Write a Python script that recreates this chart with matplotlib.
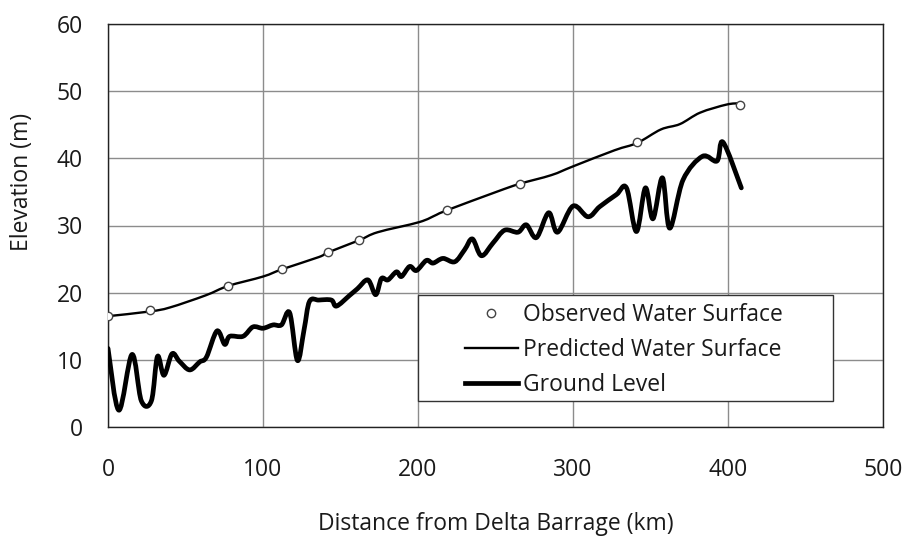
import numpy as np
import matplotlib
matplotlib.use("Agg")
import matplotlib.pyplot as plt
from matplotlib.path import Path
from matplotlib.patches import PathPatch, Rectangle
from matplotlib.lines import Line2D

plt.rcParams['font.family'] = ['Open Sans', 'DejaVu Sans']

# Observed water surface (circles)
obs_km = [0, 27, 77.5, 112.5, 142, 162, 218.5, 265.5, 341, 407.5]
obs_elev = [16.5, 17.4, 21.0, 23.5, 26.1, 27.9, 32.3, 36.2, 42.4, 48.0]

# Predicted water surface
pred_km = [0, 27, 40, 63, 77.5, 100, 112.5, 136, 142, 162, 174, 200.7, 212, 219,
           250.5, 265.5, 286, 300, 326.8, 341.5, 356.7, 369, 382, 399, 407.5]
pred_elev = [16.5, 17.2, 17.8, 19.6, 21.0, 22.4, 23.5, 25.3, 26.0, 27.8, 29.0, 30.5, 31.6, 32.3,
             35.0, 36.2, 37.5, 38.8, 41.2, 42.3, 44.3, 45.1, 46.8, 48.0, 48.2]

# Ground level
ground_km = [0, 7, 15.5, 21.5, 28, 31.9, 36.1, 41.3, 46, 52.7, 59.2, 63.5, 70.3, 75.3, 78.5,
             87.1, 93.5, 100, 106.5, 111.9, 117.2, 122.2, 126.5, 130, 136, 144.1, 147.4,
             155.9, 161, 167.7, 172.7, 176.4, 180.6, 186.1, 189.3, 194.6, 199, 205.4, 209.7,
             216.1, 223.7, 230.1, 235.1, 240.9, 248.4, 255.9, 264.5, 269.9, 276.4, 284.3,
             290, 300, 309.7, 317.2, 328, 334.5, 340.9, 346.7, 351.6, 357.7, 362.4, 371,
             383.5, 392.9, 396.8, 408.6]
ground_elev = [11.7, 2.5, 10.8, 3.9, 3.9, 10.5, 7.7, 10.9, 9.8, 8.5, 9.7, 10.4, 14.3, 12.3, 13.5,
               13.5, 14.9, 14.7, 15.2, 15.2, 17.0, 9.9, 14.5, 18.7, 18.9, 18.9, 18.0,
               19.6, 20.6, 21.9, 19.7, 22.1, 21.9, 23.1, 22.4, 23.9, 23.3, 24.8, 24.4,
               25.1, 24.6, 26.4, 28.0, 25.5, 27.4, 29.3, 29.0, 30.1, 28.2, 31.9,
               29.0, 32.9, 31.3, 32.8, 34.6, 35.6, 29.1, 35.6, 31.0, 37.1, 29.6, 36.8,
               40.3, 39.6, 42.4, 35.6]


def smooth_path(x, y):
    # Excel-style smoothed line (Catmull-Rom as cubic Bezier)
    pts = np.column_stack([x, y]).astype(float)
    n = len(pts)
    verts = [pts[0]]
    codes = [Path.MOVETO]
    for i in range(n - 1):
        p0 = pts[max(i - 1, 0)]
        p1 = pts[i]
        p2 = pts[i + 1]
        p3 = pts[min(i + 2, n - 1)]
        verts += [p1 + (p2 - p0) / 6, p2 - (p3 - p1) / 6, p2]
        codes += [Path.CURVE4] * 3
    return Path(verts, codes)


FS = 16.5
TXT = '#1a1a1a'

fig = plt.figure(figsize=(9.05, 5.36), dpi=100)
ax = fig.add_axes([108 / 905, 1 - 427 / 536, 775 / 905, 403 / 536])

ax.add_patch(PathPatch(smooth_path(pred_km, pred_elev), fill=False, lw=1.7,
                       edgecolor='black', capstyle='round', joinstyle='round', zorder=3))
ax.add_patch(PathPatch(smooth_path(ground_km, ground_elev), fill=False, lw=3.4,
                       edgecolor='black', capstyle='round', joinstyle='round', zorder=3))
ax.plot(obs_km, obs_elev, 'o', ms=6, mfc='white', mec='#444444', mew=1.0, zorder=4)

ax.set_xlim(0, 500)
ax.set_ylim(0, 60)
ax.set_xticks(range(0, 501, 100))
ax.set_yticks(range(0, 61, 10))
ax.grid(True, color='#8c8c8c', lw=1.0)
ax.set_axisbelow(True)
for s in ax.spines.values():
    s.set_color('#222222')
    s.set_linewidth(1.0)
ax.tick_params(length=0, labelsize=FS, colors=TXT)
ax.tick_params(axis='x', pad=22)
ax.tick_params(axis='y', pad=18)

ax.set_xlabel('Distance from Delta Barrage (km)', fontsize=FS, color=TXT)
ax.set_ylabel('Elevation (m)', fontsize=FS, color=TXT)
ax.xaxis.set_label_coords(0.5, -0.21)
ax.yaxis.set_label_coords(-0.095, 0.608)

# legend frame
ax.add_patch(Rectangle(((418 - 108) / 775, (427 - 401) / 403),
                       (833 - 418) / 775, (401 - 295) / 403, transform=ax.transAxes,
                       fill=True, facecolor='white', edgecolor='#333333', lw=1.0, zorder=5))

handles = [
    Line2D([], [], ls='none', marker='o', ms=6, mfc='white', mec='#444444', mew=1.0),
    Line2D([], [], color='black', lw=1.7),
    Line2D([], [], color='black', lw=3.4),
]
labels = ['Observed Water Surface', 'Predicted Water Surface', 'Ground Level']
leg = ax.legend(handles, labels, loc='center left', bbox_to_anchor=(465 / 905, 1 - 350 / 536),
                bbox_transform=fig.transFigure, frameon=False, fontsize=FS,
                handlelength=2.3, handletextpad=0.25, labelspacing=0.5,
                borderpad=0, borderaxespad=0)
leg.set_zorder(6)
for t in leg.get_texts():
    t.set_color(TXT)

fig.savefig('out.png', dpi=100)
